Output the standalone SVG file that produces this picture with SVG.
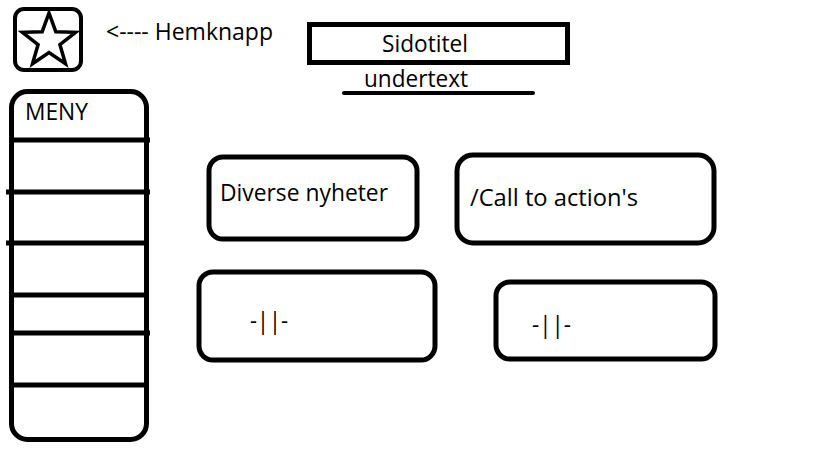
<svg xmlns="http://www.w3.org/2000/svg" width="819" height="460" viewBox="0 0 819 460">
  <style>
    .box { fill: #ffffff; stroke: #000000; stroke-width: 5; }
    .ln { stroke: #000000; stroke-width: 5; fill: none; }
    .t { font-family: "Open Sans", "Noto Sans", "Liberation Sans", sans-serif; font-size: 23px; fill: #000000; }
  </style>
  <rect x="0" y="0" width="819" height="460" fill="#ffffff"/>

  <g id="home-button">
    <rect x="15" y="9" width="66" height="61" rx="9" ry="9" fill="#ffffff" stroke="#000000" stroke-width="4"/>
    <polygon points="49,13 55.8,31.7 75.6,32.3 59.9,44.6 65.5,63.7 49,52.5 32.5,63.7 38.1,44.6 22.4,32.3 42.2,31.7" fill="#ffffff" stroke="#000000" stroke-width="3.5" stroke-linejoin="miter"/>
  </g>

  <g id="home-label">
    <text class="t" x="106" y="40" textLength="167" lengthAdjust="spacingAndGlyphs">&lt;---- Hemknapp</text>
  </g>

  <g id="page-title">
    <rect x="309.5" y="24.5" width="258" height="38" fill="#ffffff" stroke="#000000" stroke-width="5"/>
    <text class="t" x="382" y="52" textLength="86" lengthAdjust="spacingAndGlyphs">Sidotitel</text>
  </g>

  <g id="subtitle">
    <text class="t" x="364" y="87" textLength="104" lengthAdjust="spacingAndGlyphs">undertext</text>
    <line x1="344" y1="93" x2="533" y2="93" stroke="#000000" stroke-width="4" stroke-linecap="round"/>
  </g>

  <g id="menu">
    <rect class="box" x="11.5" y="91.5" width="135" height="348" rx="16" ry="16"/>
    <text class="t" x="25" y="120" textLength="63" lengthAdjust="spacingAndGlyphs">MENY</text>
    <line class="ln" x1="10" y1="140" x2="150" y2="140"/>
    <line class="ln" x1="6" y1="192" x2="150" y2="192"/>
    <line class="ln" x1="6" y1="243" x2="147" y2="243"/>
    <line class="ln" x1="11" y1="295" x2="147" y2="295"/>
    <line class="ln" x1="11" y1="333" x2="150" y2="333"/>
    <line class="ln" x1="11" y1="385" x2="147" y2="385"/>
  </g>

  <g id="news">
    <rect class="box" x="209" y="157" width="208" height="82" rx="14" ry="14"/>
    <text class="t" x="220" y="201" textLength="168" lengthAdjust="spacingAndGlyphs">Diverse nyheter</text>
  </g>

  <g id="call-to-action">
    <rect class="box" x="457" y="155" width="257" height="88" rx="16" ry="16"/>
    <text class="t" x="470" y="206" textLength="168" lengthAdjust="spacingAndGlyphs">/Call to action's</text>
  </g>

  <g id="news-2">
    <rect class="box" x="199" y="272" width="236" height="88" rx="14" ry="14"/>
    <text class="t" x="250" y="329" textLength="38" lengthAdjust="spacingAndGlyphs">-||-</text>
  </g>

  <g id="call-to-action-2">
    <rect class="box" x="496" y="282" width="219" height="77" rx="14" ry="14"/>
    <text class="t" x="532" y="333" textLength="39" lengthAdjust="spacingAndGlyphs">-||-</text>
  </g>

  <g id="connectors"></g>
</svg>
